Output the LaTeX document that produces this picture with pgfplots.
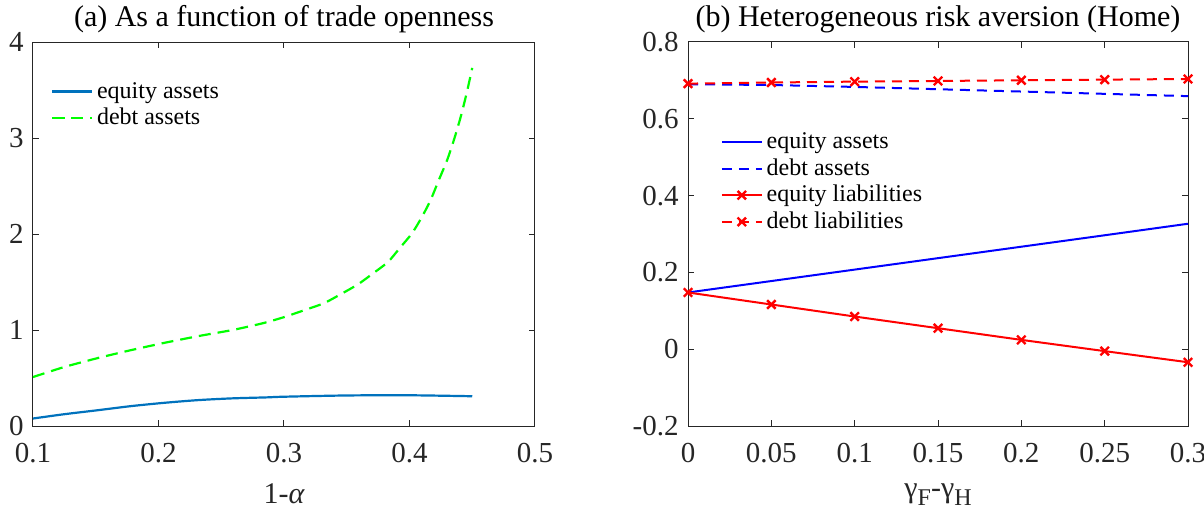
\documentclass[border=0pt]{standalone}
\usepackage{pgfplots}
\pgfplotsset{compat=1.18}
\usepackage{fontspec}
\setmainfont{Liberation Serif}

\definecolor{mblue}{rgb}{0,0.447,0.741}
\definecolor{axgray}{rgb}{0.15,0.15,0.15}

\pgfplotsset{
  panel/.style={
    scale only axis,
    height=192pt,
    axis line style={axgray, line width=0.5pt},
    tick style={axgray, line width=0.5pt},
    tick align=inside,
    major tick length=3pt,
    ticklabel style={font=\fontsize{14.5}{16}\selectfont, text=axgray, inner sep=1pt},
    xticklabel style={yshift=-7.5pt},
    yticklabel style={xshift=-3.5pt},
    label style={font=\fontsize{15}{17}\selectfont, text=axgray},
    title style={font=\fontsize{15}{17}\selectfont, text=black, yshift=-5pt},
    /pgf/number format/assume math mode=true,
    /pgf/number format/fixed,
    legend style={draw=none, fill=none, font=\fontsize{12}{14}\selectfont,
      inner sep=0pt, row sep=-0.5pt, anchor=north west,
      nodes={inner sep=2pt}},
    legend cell align=left,
    legend image code/.code={
      \draw[mark repeat=2, mark phase=2, #1]
        plot coordinates {(0cm,0cm) (0.35cm,0cm) (0.7cm,0cm)};},
  },
}

\newcommand{\sub}[1]{\raisebox{-4pt}{\fontsize{12}{12}\selectfont #1}}

\begin{document}
\begin{tikzpicture}
\useasboundingbox (-16.5pt,-41.5pt) rectangle (585.5pt,213pt);

% (a) trade openness
\begin{axis}[panel,
  width=251pt,
  xmin=0.1, xmax=0.5, ymin=0, ymax=4,
  xtick={0.1,0.2,0.3,0.4,0.5},
  ytick={0,1,2,3,4},
  xlabel={1-{\itshape α}},
  xlabel style={yshift=-6pt},
  title={(a) As a function of trade openness},
  legend style={at={(0.035,0.907)}},
]
\addplot[mblue, line width=1.1pt, smooth] coordinates {
  (0.100,0.078) (0.125,0.123) (0.152,0.165) (0.178,0.207) (0.205,0.242)
  (0.232,0.270) (0.259,0.288) (0.286,0.298) (0.30,0.305) (0.35,0.318)
  (0.40,0.320) (0.45,0.310)
};
\addlegendentry{equity assets}
\addplot[green, line width=1.1pt, dash pattern=on 6pt off 3.5pt, smooth, tension=0.4] coordinates {
  (0.100,0.51) (0.125,0.615) (0.152,0.709) (0.178,0.79) (0.205,0.867)
  (0.232,0.937) (0.259,1.00) (0.283,1.07) (0.299,1.13) (0.317,1.21)
  (0.332,1.28) (0.3455,1.375) (0.359,1.476) (0.371,1.59) (0.383,1.71)
  (0.392,1.85) (0.402,2.007) (0.410,2.18) (0.4167,2.35) (0.4233,2.56)
  (0.430,2.77) (0.4354,2.98) (0.4408,3.22) (0.4456,3.47) (0.450,3.73)
};
\addlegendentry{debt assets}
\end{axis}

% (b) heterogeneous risk aversion
\begin{axis}[panel,
  xshift=327.5pt,
  width=250pt,
  xmin=0, xmax=0.3, ymin=-0.2, ymax=0.8,
  xtick={0,0.05,0.1,0.15,0.2,0.25,0.3},
  ytick={-0.2,0,0.2,0.4,0.6,0.8},
  xlabel={γ\sub{F}-γ\sub{H}},
  xlabel style={yshift=-6pt},
  title={(b) Heterogeneous risk aversion (Home)},
  legend style={at={(0.065,0.775)}},
]
\addplot[blue, line width=1pt] coordinates {
  (0,0.1477) (0.05,0.1775) (0.1,0.2073) (0.15,0.2371) (0.2,0.2669)
  (0.25,0.2967) (0.3,0.3267)
};
\addlegendentry{equity assets}
\addplot[blue, line width=1pt, dash pattern=on 5pt off 3.5pt] coordinates {
  (0,0.690) (0.05,0.688) (0.1,0.683) (0.15,0.677) (0.2,0.671)
  (0.25,0.665) (0.3,0.659)
};
\addlegendentry{debt assets}
\addplot[red, line width=1pt, mark=x, mark size=3pt,
  mark options={solid, line width=1.2pt}] coordinates {
  (0,0.1477) (0.05,0.1164) (0.1,0.0851) (0.15,0.0547) (0.2,0.0243)
  (0.25,-0.005) (0.3,-0.034)
};
\addlegendentry{equity liabilities}
\addplot[red, line width=1pt, dash pattern=on 5pt off 3.5pt, mark=x, mark size=3pt,
  mark options={solid, line width=1.2pt}] coordinates {
  (0,0.6916) (0.05,0.6945) (0.1,0.6968) (0.15,0.6985) (0.2,0.7003)
  (0.25,0.7020) (0.3,0.7037)
};
\addlegendentry{debt liabilities}
\end{axis}
\end{tikzpicture}
\end{document}
